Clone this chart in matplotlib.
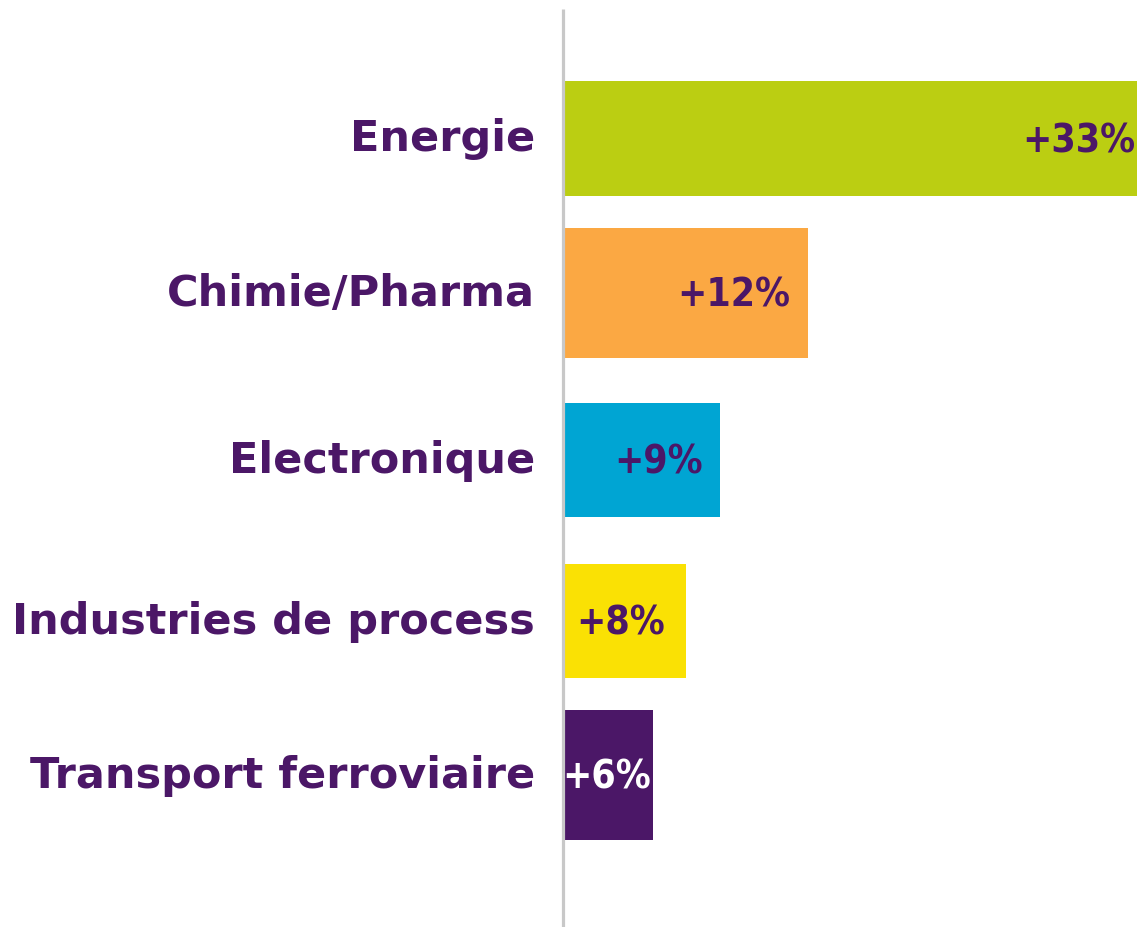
import matplotlib.pyplot as plt
from matplotlib import font_manager

W, H, DPI = 1137, 928, 100

categories = ["Energie", "Chimie/Pharma", "Electronique", "Industries de process", "Transport ferroviaire"]
bar_lengths = [33, 14.1, 9.0, 7.1, 5.2]
value_labels = ["+33%", "+12%", "+9%", "+8%", "+6%"]

bar_colors = ["#bbce12", "#fba843", "#00a5d3", "#fae104", "#4b1767"]
label_colors = ["#4b1767", "#4b1767", "#4b1767", "#4b1767", "#ffffff"]
# layout in pixels (top-down)
centers = [139.5, 294, 461, 622, 776]
heights = [115, 130, 114, 114, 130]
label_pad = [2, 18, 17, 21, 2]

PURPLE = "#4b1767"

names = {f.name for f in font_manager.fontManager.ttflist}
val_font = "Liberation Sans Narrow" if "Liberation Sans Narrow" in names else "DejaVu Sans"

fig = plt.figure(figsize=(W / DPI, H / DPI), dpi=DPI)
x0 = 563
ax = fig.add_axes([x0 / W, 0, 1 - x0 / W, 1])
ax.set_xlim(0, 33)
ax.set_ylim(H, 0)
ax.axis("off")

ax.barh(centers, bar_lengths, height=heights, color=bar_colors, left=0)
ax.plot([0, 0], [10, H], color="#c8c8c8", lw=2.3, solid_capstyle="butt", clip_on=False)

px = 33 / (W - x0)
for c, v, lab, col, pad in zip(centers, bar_lengths, value_labels, label_colors, label_pad):
    ax.text(v - pad * px, c + 2, lab, ha="right", va="center", fontsize=28,
            fontweight="bold", color=col, family=val_font, fontstretch="condensed")

for c, name in zip(centers, categories):
    fig.text(535 / W, 1 - c / H, name, ha="right", va="center", fontsize=31,
             fontweight="bold", color=PURPLE, family="DejaVu Sans")

fig.savefig("out.png", dpi=DPI, facecolor="white")
